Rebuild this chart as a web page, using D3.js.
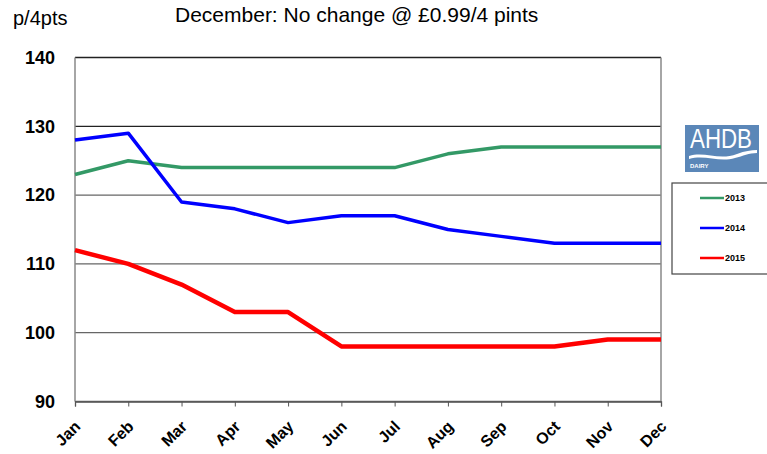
<!DOCTYPE html>
<html><head><meta charset="utf-8">
<script src="https://cdn.jsdelivr.net/npm/d3@7"></script>
<style>
body{margin:0;background:#fff;}
svg text{font-family:"Liberation Sans",Arial,sans-serif;}
</style></head>
<body><svg id="c" width="767" height="454"></svg>
<script>
const months = ["Jan","Feb","Mar","Apr","May","Jun","Jul","Aug","Sep","Oct","Nov","Dec"];
const yTicks = [90,100,110,120,130,140];
const s2013 = [123,125,124,124,124,124,124,126,127,127,127,127];
const s2014 = [128,129,119,118,116,117,117,115,114,113,113,113];
const s2015 = [112,110,107,103,103,98,98,98,98,98,99,99];
const seriesNames = ["2013","2014","2015"];
const seriesColors = ["#339966","#0000ff","#ff0000"];
const seriesWidths = [3.5,3.5,4.5];
const series = [s2013,s2014,s2015];

const svg = d3.select("#c");
const L=75, R=661, T=57.5, B=401.5;
const x = d3.scalePoint().domain(months).range([L,R]);
const y = d3.scaleLinear().domain([90,140]).range([B,T]);

// gridlines
svg.append("g").selectAll("line").data(yTicks).join("line")
  .attr("x1",L).attr("x2",R).attr("y1",d=>y(d)).attr("y2",d=>y(d))
  .attr("stroke",d=>d===140||d===130?"#222":"#666").attr("stroke-width",1.3);
// left and right borders
svg.append("line").attr("x1",L).attr("x2",L).attr("y1",T).attr("y2",B).attr("stroke","#888").attr("stroke-width",1.5);
svg.append("line").attr("x1",R).attr("x2",R).attr("y1",T).attr("y2",B).attr("stroke","#888").attr("stroke-width",1.5);

// x axis
const xa = svg.append("g").attr("transform",`translate(0,${B})`)
  .call(d3.axisBottom(x).tickSize(5));
xa.select(".domain").attr("stroke","#555").attr("stroke-width",1.3);
xa.selectAll(".tick line").attr("stroke","#555");
xa.selectAll("text").attr("font-size",16).attr("font-weight","bold").attr("fill","#000")
  .attr("text-anchor","end").attr("x",0).attr("y",0).attr("dy",null)
  .attr("transform","translate(6,26) rotate(-45)");

// y axis labels
svg.append("g").selectAll("text").data(yTicks).join("text")
  .attr("x",L-20).attr("y",d=>y(d)).attr("dy","0.35em").attr("text-anchor","end")
  .attr("font-size",18).attr("font-weight","bold").text(d=>d);

// lines
const line = d3.line().x((d,i)=>x(months[i])).y(d=>y(d));
series.forEach((s,k)=>{
  svg.append("path").attr("d",line(s)).attr("fill","none")
    .attr("stroke",seriesColors[k]).attr("stroke-width",seriesWidths[k])
    .attr("stroke-linejoin","round");
});

// titles
svg.append("text").attr("x",13).attr("y",25).attr("font-size",20).text("p/4pts");
svg.append("text").attr("x",175).attr("y",22).attr("font-size",21).text("December: No change @ £0.99/4 pints");

// legend
svg.append("rect").attr("x",672).attr("y",183).attr("width",100).attr("height",91)
  .attr("fill","#fff").attr("stroke","#444").attr("stroke-width",1.2);
seriesNames.forEach((n,k)=>{
  const ly = 198 + k*30;
  svg.append("line").attr("x1",700).attr("x2",724).attr("y1",ly).attr("y2",ly)
    .attr("stroke",seriesColors[k]).attr("stroke-width",2.5);
  svg.append("text").attr("x",725).attr("y",ly).attr("dy","0.35em")
    .attr("font-size",9).attr("font-weight","bold").text(n);
});

// AHDB logo
const lg = svg.append("g").attr("transform","translate(685,125)");
lg.append("rect").attr("width",74).attr("height",47).attr("fill","#5b87b8");
lg.append("text").attr("x",5).attr("y",23).attr("font-size",28)
  .attr("textLength",62).attr("lengthAdjust","spacingAndGlyphs")
  .attr("fill","#fff").text("AHDB");
lg.append("path").attr("d","M4,31 C20,26 34,36 52,29 C60,26 66,25 72,25 L72,28 C64,28 58,31 50,33 C34,38 20,29 4,34 Z").attr("fill","#fff");
lg.append("text").attr("x",5).attr("y",43).attr("font-size",6).attr("font-weight","bold").attr("fill","#fff").text("DAIRY");
</script></body></html>
